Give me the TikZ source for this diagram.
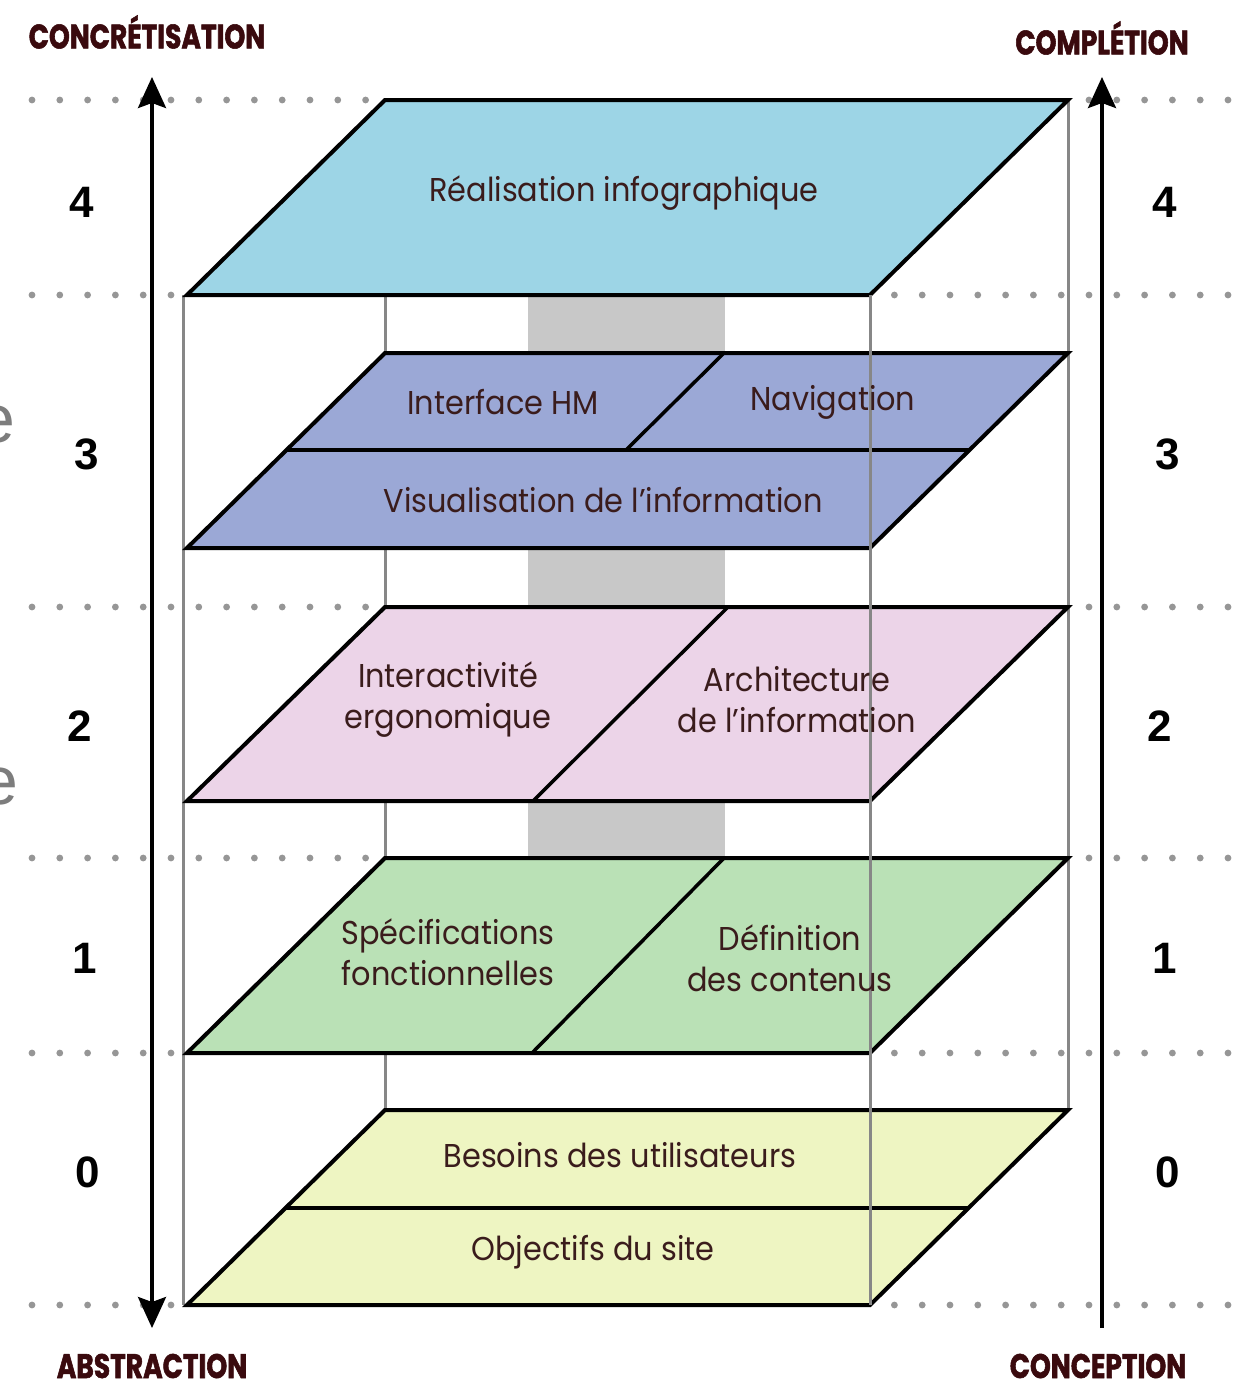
\documentclass[tikz,border=0pt]{standalone}
\usepackage{fontspec}
\setmainfont{Poppins}[FakeStretch=0.92]
\newfontfamily\hdrfont{Poppins}[FakeStretch=0.78, FakeBold=1.6]
\newfontfamily\numfont{Liberation Sans}
\usetikzlibrary{arrows.meta}
\definecolor{cfour}{RGB}{157,213,230}
\definecolor{cthree}{RGB}{155,168,214}
\definecolor{ctwo}{RGB}{236,212,232}
\definecolor{cone}{RGB}{186,225,182}
\definecolor{czero}{RGB}{238,245,194}
\definecolor{colgray}{RGB}{200,200,200}
\definecolor{pillargray}{RGB}{135,135,135}
\definecolor{dotgray}{RGB}{150,150,150}
\definecolor{lblbrown}{RGB}{58,28,28}
\definecolor{hdrbrown}{RGB}{58,10,14}
\definecolor{egray}{RGB}{125,125,125}
\tikzset{
  plane/.style={draw=black, line width=4pt, line join=miter},
  divider/.style={draw=black, line width=3.5pt},
  pillar/.style={draw=pillargray, line width=3pt},
  column/.style={fill=colgray},
  dotc/.style={fill=dotgray},
  lbl/.style={text=lblbrown, font=\fontsize{33}{41}\selectfont, align=center, inner sep=0pt},
  hdr/.style={text=hdrbrown, font=\hdrfont\bfseries\fontsize{34}{34}\selectfont, inner sep=0pt},
  num/.style={font=\numfont\bfseries\fontsize{44}{44}\selectfont, inner sep=0pt},
  axis/.style={line width=3.5pt, -{Stealth[length=31pt, width=28pt, inset=5pt]}},
  axisboth/.style={line width=3.5pt, {Stealth[length=31pt, width=28pt, inset=5pt]}-{Stealth[length=31pt, width=28pt, inset=5pt]}},
  ghost/.style={text=egray, font=\numfont\fontsize{68}{68}\selectfont, inner sep=0pt}
}
\begin{document}
\begin{tikzpicture}[x=1pt, y=-1pt]
\useasboundingbox[fill=white] (0,0) rectangle (1245,1384);
% cropped stray letters at the left margin
\begin{scope}
\clip (0,0) rectangle (1245,1384);
\node[ghost] (eone) at (-4,425) {e};
\node[ghost] (etwo) at (-1,787) {e};
\end{scope}
% dotted guide rows
\foreach \yy/\nl/\nr in {100/13/6, 295/6/13, 607/13/6, 858/13/6, 1053/6/13, 1305/6/13}{
  \foreach \k in {1,...,\nl}{\fill[dotc] ({32+27.8*(\k-1)},\yy) circle[radius=3.4pt];}
  \foreach \k in {1,...,\nr}{\fill[dotc] ({1228-27.8*(\k-1)},\yy) circle[radius=3.4pt];}
}
% grey column between layers
\fill[column] (528,295) rectangle (725,353);
\fill[column] (528,548) rectangle (725,607);
\fill[column] (528,801) rectangle (725,858);
% back and left edges of the box
\coordinate (bl-top) at (385,295);
\coordinate (bl-bot) at (385,1110);
\coordinate (br-top) at (1068,100);
\coordinate (br-bot) at (1068,1110);
\coordinate (fl-top) at (183,295);
\coordinate (fl-bot) at (183,1305);
\draw[pillar] (bl-top) -- (bl-bot);
\draw[pillar] (br-top) -- (br-bot);
\draw[pillar] (fl-top) -- (fl-bot);
% level 4
\draw[plane, fill=cfour] (187,295) -- (870,295) -- (1068,100) -- (385,100) -- cycle;
% level 3
\draw[plane, fill=cthree] (187,548) -- (870,548) -- (1068,353) -- (385,353) -- cycle;
\draw[divider] (286,450) -- (969,450);
\draw[divider] (724,353) -- (626,450);
% level 2
\draw[plane, fill=ctwo] (187,801) -- (870,801) -- (1068,607) -- (385,607) -- cycle;
\draw[divider] (728,607) -- (533,801);
% level 1
\draw[plane, fill=cone] (187,1053) -- (870,1053) -- (1068,858) -- (385,858) -- cycle;
\draw[divider] (724,858) -- (532,1053);
% level 0
\draw[plane, fill=czero] (187,1305) -- (870,1305) -- (1068,1110) -- (385,1110) -- cycle;
\draw[divider] (286,1208) -- (969,1208);
% front right edge, over the planes
\coordinate (fr-top) at (870,295);
\coordinate (fr-bot) at (870,1305);
\draw[pillar] (fr-top) -- (fr-bot);
% labels
\node[lbl] (realisation) at (624,193) {Réalisation infographique};
\node[lbl] (interface) at (503,402) {Interface HM};
\node[lbl] (navigation) at (833,402) {Navigation};
\node[lbl] (visualisation) at (603,500) {Visualisation de l’information};
\node[lbl] (interactivite) at (448,700) {Interactivité\\ergonomique};
\node[lbl] (architecture) at (797,700) {Architecture\\de l’information};
\node[lbl] (specifications) at (448,952) {Spécifications\\fonctionnelles};
\node[lbl] (definition) at (790,958) {Définition\\des contenus};
\node[lbl] (besoins) at (620,1155) {Besoins des utilisateurs};
\node[lbl] (objectifs) at (593,1252) {Objectifs du site};
% axes
\coordinate (la-top) at (152,77);
\coordinate (la-bot) at (152,1328);
\coordinate (ra-top) at (1102,77);
\coordinate (ra-bot) at (1102,1328);
\draw[axisboth] (la-bot) -- (la-top);
\draw[axis] (ra-bot) -- (ra-top);
% headings
\node[hdr] (concretisation) at (147,32) {CONCRÉTISATION};
\node[hdr] (completion) at (1102,38) {COMPLÉTION};
\node[hdr] (abstraction) at (152,1366) {ABSTRACTION};
\node[hdr] (conception) at (1098,1366) {CONCEPTION};
% level numbers
\node[num] (lfour) at (82,202) {4};
\node[num] (lthree) at (87,454) {3};
\node[num] (ltwo) at (80,726) {2};
\node[num] (lone) at (85,958) {1};
\node[num] (lzero) at (88,1172) {0};
\node[num] (rfour) at (1165,202) {4};
\node[num] (rthree) at (1168,454) {3};
\node[num] (rtwo) at (1160,726) {2};
\node[num] (rone) at (1165,958) {1};
\node[num] (rzero) at (1168,1172) {0};
\end{tikzpicture}
\end{document}
